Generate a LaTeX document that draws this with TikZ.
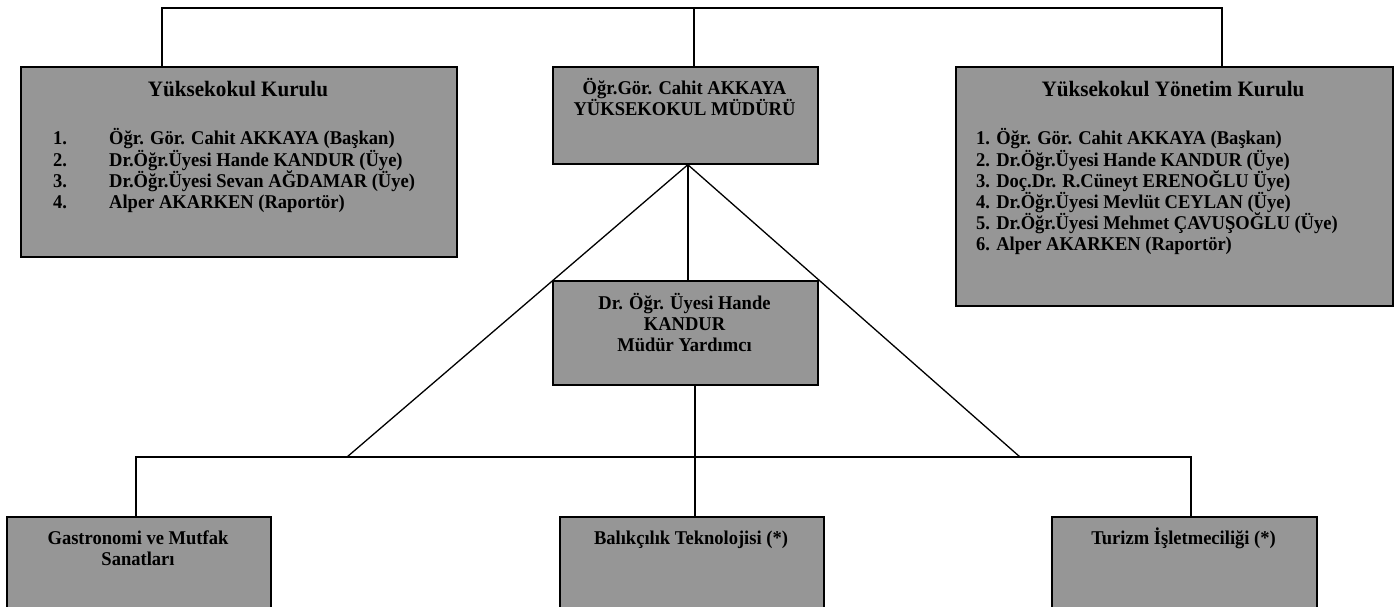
\documentclass[tikz,border=0pt]{standalone}
\usepackage{fontspec}
\setmainfont{Liberation Serif}
\newfontfamily\bodyfont{Liberation Serif}[FakeStretch=0.95]
\newfontfamily\titlefont{Liberation Serif}[FakeStretch=0.96]
\usetikzlibrary{calc}
\definecolor{boxgray}{RGB}{150,150,150}
\begin{document}
\begin{tikzpicture}[x=1pt,y=-1pt,
  box/.style={draw=black, line width=1.7pt, fill=boxgray, rectangle, anchor=north west, inner sep=0pt},
  conn/.style={draw=black, line width=1.3pt},
  txt/.style={font=\bodyfont\bfseries\fontsize{19.5}{20}\selectfont, inner sep=0pt, anchor=base},
  ttl/.style={font=\titlefont\bfseries\fontsize{22}{24}\selectfont, inner sep=0pt, anchor=base},
  item/.style={font=\bodyfont\bfseries\fontsize{19.5}{20}\selectfont, inner sep=0pt, anchor=base west}]
\useasboundingbox (0,0) rectangle (1397,607);
\clip (0,0) rectangle (1397,607);
% boxes
\node[box, minimum width=436pt, minimum height=190pt] (kurul) at (20,66) {};
\node[box, minimum width=265pt, minimum height=97pt] (mudur) at (552,66) {};
\node[box, minimum width=437pt, minimum height=239pt] (yonetim) at (955,66) {};
\node[box, minimum width=265pt, minimum height=104pt] (hande) at (552,280) {};
\node[box, minimum width=264pt, minimum height=130pt] (gastro) at (6,516) {};
\node[box, minimum width=264pt, minimum height=130pt] (balik) at (559,516) {};
\node[box, minimum width=265pt, minimum height=130pt] (turizm) at (1051,516) {};
% texts
\node[ttl] (kurulT) at (238,97) {Yüksekokul Kurulu};
\node[item] (k1n) at (53,145) {1.};
\node[item] (k2n) at (53,166) {2.};
\node[item] (k3n) at (53,187) {3.};
\node[item] (k4n) at (53,208) {4.};
\node[item] (k1) at (109,145) {Öğr. Gör. Cahit AKKAYA (Başkan)};
\node[item] (k2) at (109,166) {Dr.Öğr.Üyesi Hande KANDUR (Üye)};
\node[item] (k3) at (109,187) {Dr.Öğr.Üyesi Sevan AĞDAMAR (Üye)};
\node[item] (k4) at (109,208) {Alper AKARKEN (Raportör)};
\node[txt] (m1) at (684.5,95) {Öğr.Gör. Cahit AKKAYA};
\node[txt] (m2) at (684.5,116) {YÜKSEKOKUL MÜDÜRÜ};
\node[ttl] (yonT) at (1173,97) {Yüksekokul Yönetim Kurulu};
\node[item] (y1) at (976,145) {1. Öğr. Gör. Cahit AKKAYA (Başkan)};
\node[item] (y2) at (976,166) {2. Dr.Öğr.Üyesi Hande KANDUR (Üye)};
\node[item] (y3) at (976,187) {3. Doç.Dr. R.Cüneyt ERENOĞLU Üye)};
\node[item] (y4) at (976,208) {4. Dr.Öğr.Üyesi Mevlüt CEYLAN (Üye)};
\node[item] (y5) at (976,229) {5. Dr.Öğr.Üyesi Mehmet ÇAVUŞOĞLU (Üye)};
\node[item] (y6) at (976,250) {6. Alper AKARKEN (Raportör)};
\node[txt] (h1) at (684.5,309) {Dr. Öğr. Üyesi Hande};
\node[txt] (h2) at (684.5,330) {KANDUR};
\node[txt] (h3) at (684.5,351) {Müdür Yardımcı};
\node[txt] (g1) at (138,544) {Gastronomi ve Mutfak};
\node[txt] (g2) at (138,565) {Sanatları};
\node[txt] (b1) at (691,544) {Balıkçılık Teknolojisi (*)};
\node[txt] (t1) at (1183.5,544) {Turizm İşletmeciliği (*)};
% connectors
\coordinate (tl) at (162,8);
\coordinate (tm) at (694,8);
\coordinate (tr) at (1222,8);
\draw[conn] (kurul.north -| tl) -- (tl) -- (tr) -- (yonetim.north -| tr);
\draw[conn] (tm) -- (tm |- mudur.north);
\coordinate (ms) at ($(mudur.south)+(2.5,0)$);
\draw[conn] (ms) -- (ms |- hande.north);
\coordinate (bl) at (347,457);
\coordinate (br) at (1020,457);
\draw[conn] (ms) -- (bl);
\draw[conn] (ms) -- (br);
\coordinate (busL) at (136,457);
\coordinate (busR) at (1191,457);
\draw[conn] (gastro.north -| busL) -- (busL) -- (busR) -- (turizm.north -| busR);
\coordinate (hc) at ($(hande.south)+(9.5,0)$);
\draw[conn] (hc) -- (hc |- balik.north);
\end{tikzpicture}
\end{document}
